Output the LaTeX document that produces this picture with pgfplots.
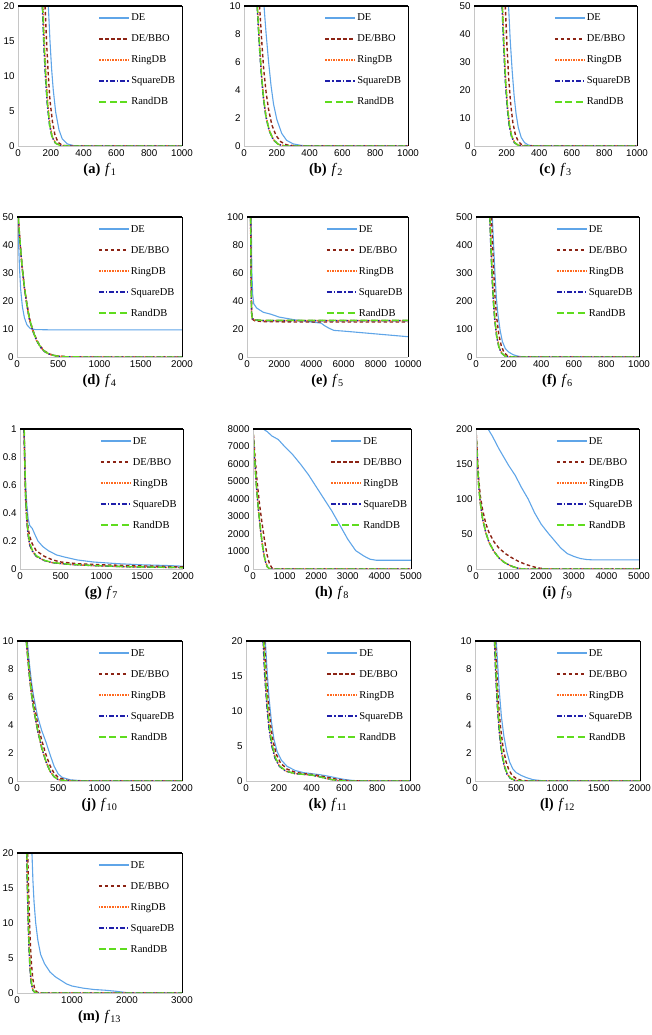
\documentclass[border=0pt]{standalone}
\usepackage{fontspec}
\setmainfont{Liberation Serif}
\newfontfamily\tickfam{Liberation Sans}
\usepackage{pgfplots}
\pgfplotsset{compat=1.18}
\definecolor{cDE}{RGB}{95,165,232}
\definecolor{cBBO}{RGB}{140,35,20}
\definecolor{cRing}{RGB}{255,105,30}
\definecolor{cSq}{RGB}{30,30,170}
\definecolor{cRand}{RGB}{95,220,30}
\newcommand{\tickf}{\tickfam\fontsize{9.8}{11}\selectfont}
\newcommand{\legf}{\fontsize{10.5}{12}\selectfont}
\newcommand{\capf}{\fontsize{14.5}{16}\selectfont}
\newcommand{\pcap}[2]{\textbf{(#1)}\,\,\textit{f}\textsubscript{#2}}
\tikzset{
 sDE/.style={color=cDE, line width=1.1pt, solid},
 sBBO/.style={color=cBBO, line width=1.4pt, dash pattern=on 3.5pt off 2.5pt},
 sRing/.style={color=cRing, line width=1.4pt, dash pattern=on 1.6pt off 1pt},
 sSq/.style={color=cSq, line width=1.3pt, dash pattern=on 5pt off 2pt on 1.5pt off 2pt},
 sRand/.style={color=cRand, line width=1.4pt, dash pattern=on 7pt off 3.5pt},
}
\pgfplotsset{panel/.style={
  scale only axis, height=140pt, xmin=0, ymin=0,
  axis line style={draw=none}, major tick length=0pt,
  tick label style={font=\tickf},
  /pgf/number format/1000 sep={}, scaled ticks=false,
  /pgf/number format/assume math mode=true,
  every axis x label/.style={at={(axis description cs:0.5,0)}, anchor=center, yshift=-24pt, font=\capf},
  legend style={draw=none, fill=none, at={(0.49,0.955)}, anchor=north west, inner sep=0pt,
     row sep=9.5pt, font=\legf, nodes={inner sep=1pt, text height=7.5pt, text depth=2pt}},
  legend cell align=left,
  legend image code/.code={\draw[##1, line width=1.7pt] (0pt,0pt) -- (30pt,0pt);},
  after end axis/.code={
    \draw[gray!45, line width=0.8pt] (rel axis cs:0,1) -- (rel axis cs:0,0) -- (rel axis cs:1,0);
    \draw[black, line width=0.7pt] (rel axis cs:1,0) -- (rel axis cs:1,1);
    \draw[black, line width=1.3pt] (rel axis cs:0,1) -- (rel axis cs:1,1);
  },
}}
\newcommand{\leg}{\legend{DE,DE/BBO,RingDB,SquareDB,RandDB}}
\begin{document}
\begin{tikzpicture}
\useasboundingbox (0,0) rectangle (652pt,-1035pt);
% (a)
\begin{axis}[panel, at={(18pt,-146pt)}, anchor=south west, width=164pt,
  xmax=1000, ymax=20, xtick={0,200,...,1000}, ytick={0,5,...,20}, xlabel={\pcap{a}{1}}]
\addplot[sDE] coordinates {(185,20)(195,15)(205,11)(215,8)(230,4.8)(250,2.3)(270,1)(300,0.3)(340,0.05)(400,0)(1000,0)};
\addplot[sBBO] coordinates {(165,20)(175,14.5)(185,10)(195,6.5)(210,3.5)(225,1.6)(245,0.5)(270,0.1)(320,0)(1000,0)};
\addplot[sRing] coordinates {(152,20)(162,14)(172,9.5)(182,6)(195,3)(210,1.3)(230,0.4)(260,0.05)(300,0)(1000,0)};
\addplot[sSq] coordinates {(148,20)(158,14)(168,9.5)(178,6)(192,3)(207,1.3)(228,0.4)(258,0.05)(300,0)(1000,0)};
\addplot[sRand] coordinates {(150,20)(160,14)(170,9.5)(180,6)(193,3)(208,1.3)(229,0.4)(259,0.05)(300,0)(1000,0)};
\leg
\end{axis}
% (b)
\begin{axis}[panel, at={(244pt,-146pt)}, anchor=south west, width=164pt,
  xmax=1000, ymax=10, xtick={0,200,...,1000}, ytick={0,2,...,10}, xlabel={\pcap{b}{2}}]
\addplot[sDE] coordinates {(122,10)(135,8)(150,6)(165,4.3)(180,3)(200,1.9)(230,0.9)(260,0.4)(300,0.15)(350,0.04)(400,0)(1000,0)};
\addplot[sBBO] coordinates {(95,10)(108,7.5)(120,5.5)(135,3.8)(150,2.6)(170,1.5)(195,0.75)(225,0.3)(260,0.08)(320,0)(1000,0)};
\addplot[sRing] coordinates {(82,10)(95,7.3)(108,5)(120,3.4)(135,2.1)(155,1.1)(180,0.45)(210,0.12)(250,0)(1000,0)};
\addplot[sSq] coordinates {(80,10)(93,7.2)(106,5)(118,3.4)(133,2.1)(153,1.1)(178,0.45)(208,0.12)(250,0)(1000,0)};
\addplot[sRand] coordinates {(81,10)(94,7.3)(107,5)(119,3.4)(134,2.1)(154,1.1)(179,0.45)(209,0.12)(250,0)(1000,0)};
\leg
\end{axis}
% (c)
\begin{axis}[panel, at={(474pt,-146pt)}, anchor=south west, width=163pt,
  xmax=1000, ymax=50, xtick={0,200,...,1000}, ytick={0,10,...,50}, xlabel={\pcap{c}{3}}]
\addplot[sDE] coordinates {(212,50)(222,38)(234,27)(246,18)(258,11.5)(272,6.5)(290,3)(310,1.2)(335,0.3)(370,0.05)(420,0)(1000,0)};
\addplot[sBBO] coordinates {(192,50)(202,36)(213,24)(225,15)(238,8.5)(253,4.2)(270,1.8)(290,0.6)(320,0.1)(360,0)(1000,0)};
\addplot[sRing] coordinates {(175,50)(185,35)(195,23)(206,14)(218,7.5)(232,3.5)(250,1.2)(272,0.3)(300,0)(1000,0)};
\addplot[sSq] coordinates {(172,50)(182,35)(192,23)(203,14)(215,7.5)(229,3.5)(247,1.2)(269,0.3)(300,0)(1000,0)};
\addplot[sRand] coordinates {(174,50)(184,35)(194,23)(205,14)(217,7.5)(231,3.5)(249,1.2)(271,0.3)(300,0)(1000,0)};
\leg
\end{axis}
% (d)
\begin{axis}[panel, at={(17pt,-357pt)}, anchor=south west, width=165pt,
  xmax=2000, ymax=50, xtick={0,500,...,2000}, ytick={0,10,...,50}, xlabel={\pcap{d}{4}}]
\addplot[sDE] coordinates {(10,50)(20,40)(30,32)(45,24)(65,18)(90,14)(120,11.5)(160,10.2)(220,9.8)(400,9.7)(2000,9.7)};
\addplot[sBBO] coordinates {(15,50)(35,42)(60,33)(90,25)(120,19)(150,14)(190,9.8)(240,6)(290,3.6)(340,2)(400,1)(480,0.4)(600,0.1)(800,0)(2000,0)};
\addplot[sRing] coordinates {(15,50)(35,41.5)(60,32.5)(90,24.5)(120,18.5)(150,13.5)(190,9.4)(240,5.7)(290,3.3)(340,1.8)(400,0.9)(480,0.35)(600,0.08)(800,0)(2000,0)};
\addplot[sSq] coordinates {(15,50)(35,41.5)(60,32.5)(90,24.5)(120,18.5)(150,13.5)(190,9.4)(240,5.7)(290,3.3)(340,1.8)(400,0.9)(480,0.35)(600,0.08)(800,0)(2000,0)};
\addplot[sRand] coordinates {(15,50)(35,42)(60,33)(90,25)(120,18.8)(150,13.8)(190,9.6)(240,5.8)(290,3.4)(340,1.9)(400,0.9)(480,0.35)(600,0.08)(800,0)(2000,0)};
\leg
\end{axis}
% (e)
\begin{axis}[panel, at={(247pt,-357pt)}, anchor=south west, width=161pt,
  xmax=10000, ymax=100, xtick={0,2000,...,10000}, ytick={0,20,...,100}, xlabel={\pcap{e}{5}}]
\addplot[sDE] coordinates {(260,100)(300,62)(350,45)(420,38)(600,35)(1000,32)(1500,30.5)(2000,28.5)(2500,27.5)(3000,26.5)(3500,25.8)(4000,25)(4600,24.2)(4800,22.5)(5100,20.5)(5400,19)(6000,18.5)(7000,17.5)(8000,16.5)(9000,15.5)(10000,14.5)};
\addplot[sBBO] coordinates {(230,100)(260,60)(290,32)(330,27)(500,25.8)(1000,25.3)(3000,25)(10000,25)};
\addplot[sRing] coordinates {(220,100)(250,60)(280,32)(320,27.5)(500,26.5)(1000,26)(3000,26)(10000,26)};
\addplot[sSq] coordinates {(220,100)(250,60)(280,32)(320,27.5)(500,26.5)(1000,26)(3000,26)(10000,26)};
\addplot[sRand] coordinates {(225,100)(255,60)(285,32)(325,27.5)(500,26.5)(1000,26.2)(3000,26.2)(10000,26.2)};
\leg
\end{axis}
% (f)
\begin{axis}[panel, at={(476pt,-357pt)}, anchor=south west, width=163pt,
  xmax=1000, ymax=500, xtick={0,200,...,1000}, ytick={0,100,...,500}, xlabel={\pcap{f}{6}}]
\addplot[sDE] coordinates {(100,500)(108,400)(116,300)(125,210)(135,150)(148,95)(162,55)(180,30)(200,18)(225,9)(250,4)(280,1)(320,0)(1000,0)};
\addplot[sBBO] coordinates {(95,500)(102,400)(109,300)(117,210)(127,140)(140,80)(155,40)(172,16)(192,5)(215,1)(250,0)(1000,0)};
\addplot[sRing] coordinates {(86,500)(93,390)(100,290)(108,200)(117,130)(128,75)(142,35)(158,14)(178,4)(200,1)(230,0)(1000,0)};
\addplot[sSq] coordinates {(84,500)(91,390)(98,290)(106,200)(115,130)(126,75)(140,35)(156,14)(176,4)(198,1)(230,0)(1000,0)};
\addplot[sRand] coordinates {(85,500)(92,390)(99,290)(107,200)(116,130)(127,75)(141,35)(157,14)(177,4)(199,1)(230,0)(1000,0)};
\leg
\end{axis}
% (g)
\begin{axis}[panel, at={(20pt,-569pt)}, anchor=south west, width=163pt,
  xmax=2000, ymax=1, xtick={0,500,...,2000}, ytick={0,0.2,...,1}, xlabel={\pcap{g}{7}},
  yticklabel style={/pgf/number format/fixed}]
\addplot[sDE] coordinates {(50,1)(60,0.75)(70,0.58)(85,0.45)(100,0.36)(120,0.31)(150,0.29)(180,0.25)(220,0.2)(280,0.16)(350,0.13)(450,0.1)(550,0.085)(700,0.065)(900,0.05)(1200,0.038)(1500,0.03)(1800,0.025)(2000,0.02)};
\addplot[sBBO] coordinates {(50,1)(60,0.72)(70,0.52)(85,0.38)(100,0.29)(120,0.23)(150,0.18)(200,0.13)(250,0.11)(300,0.09)(400,0.065)(500,0.05)(700,0.038)(1000,0.03)(1500,0.022)(2000,0.015)};
\addplot[sRing] coordinates {(50,1)(60,0.7)(70,0.48)(85,0.33)(100,0.24)(120,0.17)(150,0.13)(200,0.09)(300,0.06)(400,0.045)(600,0.033)(900,0.024)(1300,0.016)(2000,0.01)};
\addplot[sSq] coordinates {(50,1)(60,0.7)(70,0.48)(85,0.33)(100,0.24)(120,0.17)(150,0.13)(200,0.09)(300,0.06)(400,0.045)(600,0.033)(900,0.024)(1300,0.016)(2000,0.01)};
\addplot[sRand] coordinates {(52,1)(62,0.7)(72,0.49)(87,0.34)(102,0.25)(122,0.18)(152,0.135)(200,0.095)(300,0.062)(400,0.046)(600,0.034)(900,0.025)(1300,0.017)(2000,0.01)};
\leg
\end{axis}
% (h)
\begin{axis}[panel, at={(253pt,-569pt)}, anchor=south west, width=158pt,
  xmax=5000, ymax=8000, xtick={0,1000,...,5000}, ytick={0,1000,...,8000}, xlabel={\pcap{h}{8}}]
\addplot[sDE] coordinates {(320,8000)(450,7850)(600,7600)(800,7400)(1000,7000)(1250,6550)(1500,6000)(1750,5400)(2000,4700)(2250,4000)(2500,3300)(2750,2500)(3000,1700)(3250,1050)(3500,750)(3700,560)(3900,500)(5000,500)};
\addplot[sBBO] coordinates {(0,8000)(60,6500)(130,5000)(200,3800)(280,2700)(360,1700)(440,850)(520,300)(600,60)(680,0)(5000,0)};
\addplot[sRing] coordinates {(0,8000)(50,6300)(110,4700)(170,3400)(240,2200)(310,1200)(380,500)(450,130)(520,10)(580,0)(5000,0)};
\addplot[sSq] coordinates {(0,8000)(50,6300)(110,4700)(170,3400)(240,2200)(310,1200)(380,500)(450,130)(520,10)(580,0)(5000,0)};
\addplot[sRand] coordinates {(0,8000)(52,6300)(112,4700)(172,3400)(242,2200)(312,1200)(382,500)(452,130)(522,10)(580,0)(5000,0)};
\leg
\end{axis}
% (i)
\begin{axis}[panel, at={(476pt,-569pt)}, anchor=south west, width=163pt,
  xmax=5000, ymax=200, xtick={0,1000,...,5000}, ytick={0,50,...,200}, xlabel={\pcap{i}{9}}]
\addplot[sDE] coordinates {(370,200)(500,190)(700,172)(1000,148)(1200,134)(1400,116)(1600,100)(1800,80)(2000,64)(2200,52)(2400,41)(2600,30)(2800,22)(3000,18)(3200,15)(3400,13.5)(3600,13)(5000,13)};
\addplot[sBBO] coordinates {(0,200)(40,165)(80,130)(130,105)(200,85)(300,65)(400,52)(550,39)(700,30)(900,22)(1100,16)(1300,11)(1500,7)(1700,4)(1900,1.5)(2100,0.3)(2300,0)(5000,0)};
\addplot[sRing] coordinates {(0,200)(40,155)(80,120)(130,95)(200,72)(300,52)(400,38)(550,25)(700,16)(850,10)(1000,6)(1150,3)(1300,1)(1450,0)(5000,0)};
\addplot[sSq] coordinates {(0,200)(40,155)(80,120)(130,95)(200,72)(300,52)(400,38)(550,25)(700,16)(850,10)(1000,6)(1150,3)(1300,1)(1450,0)(5000,0)};
\addplot[sRand] coordinates {(0,200)(42,155)(82,120)(132,95)(202,72)(302,52)(402,38)(552,25)(702,16)(852,10)(1002,6)(1152,3)(1302,1)(1450,0)(5000,0)};
\leg
\end{axis}
% (j)
\begin{axis}[panel, at={(17pt,-781pt)}, anchor=south west, width=165pt,
  xmax=2000, ymax=10, xtick={0,500,...,2000}, ytick={0,2,...,10}, xlabel={\pcap{j}{10}}]
\addplot[sDE] coordinates {(125,10)(150,8.4)(175,7.1)(200,6.1)(250,4.6)(300,3.6)(350,2.8)(400,1.9)(450,1.05)(500,0.5)(550,0.25)(650,0.08)(800,0.02)(1000,0)(2000,0)};
\addplot[sBBO] coordinates {(118,10)(150,7.9)(175,6.7)(200,5.7)(250,4.1)(300,2.9)(350,1.9)(400,1.1)(450,0.55)(500,0.25)(600,0.06)(750,0)(2000,0)};
\addplot[sRing] coordinates {(112,10)(150,7.5)(175,6.2)(200,5.2)(250,3.6)(300,2.35)(350,1.4)(400,0.7)(450,0.3)(500,0.1)(600,0.01)(700,0)(2000,0)};
\addplot[sSq] coordinates {(112,10)(150,7.5)(175,6.2)(200,5.2)(250,3.6)(300,2.35)(350,1.4)(400,0.7)(450,0.3)(500,0.1)(600,0.01)(700,0)(2000,0)};
\addplot[sRand] coordinates {(114,10)(152,7.5)(177,6.2)(202,5.2)(252,3.6)(302,2.35)(352,1.4)(402,0.7)(452,0.3)(502,0.1)(600,0.01)(700,0)(2000,0)};
\leg
\end{axis}
% (k)
\begin{axis}[panel, at={(246pt,-781pt)}, anchor=south west, width=164pt,
  xmax=1000, ymax=20, xtick={0,200,...,1000}, ytick={0,5,...,20}, xlabel={\pcap{k}{11}}]
\addplot[sDE] coordinates {(118,20)(128,16)(140,12)(155,8.5)(170,6)(190,4.2)(215,3)(250,2.1)(300,1.5)(350,1.2)(400,1.05)(450,0.9)(500,0.7)(550,0.45)(600,0.22)(650,0.08)(700,0.02)(800,0)(1000,0)};
\addplot[sBBO] coordinates {(113,20)(123,15.5)(135,11.5)(150,8)(165,5.7)(185,3.8)(210,2.6)(250,1.7)(300,1.25)(350,1.05)(400,0.95)(450,0.75)(500,0.5)(550,0.27)(600,0.1)(650,0.02)(720,0)(1000,0)};
\addplot[sRing] coordinates {(106,20)(116,15)(128,11)(142,7.5)(158,5.1)(178,3.3)(205,2.1)(245,1.4)(300,1.05)(350,0.95)(400,0.85)(450,0.6)(500,0.3)(550,0.1)(600,0.01)(650,0)(1000,0)};
\addplot[sSq] coordinates {(104,20)(114,15)(126,11)(140,7.5)(156,5.1)(176,3.3)(203,2.1)(243,1.4)(300,1.05)(350,0.95)(400,0.85)(450,0.6)(500,0.3)(550,0.1)(600,0.01)(650,0)(1000,0)};
\addplot[sRand] coordinates {(108,20)(118,15)(130,11)(144,7.5)(160,5.1)(180,3.3)(207,2.1)(247,1.4)(300,1.05)(350,0.95)(400,0.85)(450,0.6)(500,0.3)(550,0.1)(600,0.01)(650,0)(1000,0)};
\leg
\end{axis}
% (l)
\begin{axis}[panel, at={(475pt,-781pt)}, anchor=south west, width=165pt,
  xmax=2000, ymax=10, xtick={0,500,...,2000}, ytick={0,2,...,10}, xlabel={\pcap{l}{12}}]
\addplot[sDE] coordinates {(258,10)(275,8.3)(295,6.4)(320,4.6)(350,3.2)(385,2.1)(420,1.35)(460,0.85)(500,0.6)(560,0.4)(620,0.25)(700,0.1)(800,0.03)(900,0)(2000,0)};
\addplot[sBBO] coordinates {(248,10)(265,7.6)(285,5.5)(310,3.8)(340,2.4)(375,1.4)(410,0.8)(450,0.4)(500,0.17)(560,0.05)(650,0)(2000,0)};
\addplot[sRing] coordinates {(238,10)(255,7.4)(275,5.2)(298,3.4)(325,2)(355,1.1)(390,0.5)(430,0.2)(480,0.05)(550,0)(2000,0)};
\addplot[sSq] coordinates {(235,10)(252,7.4)(272,5.2)(295,3.4)(322,2)(352,1.1)(387,0.5)(427,0.2)(477,0.05)(550,0)(2000,0)};
\addplot[sRand] coordinates {(240,10)(257,7.4)(277,5.2)(300,3.4)(327,2)(357,1.1)(392,0.5)(432,0.2)(482,0.05)(550,0)(2000,0)};
\leg
\end{axis}
% (m)
\begin{axis}[panel, at={(17pt,-993pt)}, anchor=south west, width=165pt,
  xmax=3000, ymax=20, xtick={0,1000,...,3000}, ytick={0,5,...,20}, xlabel={\pcap{m}{13}}]
\addplot[sDE] coordinates {(272,20)(290,16)(310,13)(340,10)(380,7.5)(430,5.5)(500,4.2)(600,3)(700,2.3)(800,1.8)(900,1.3)(1000,1)(1200,0.7)(1400,0.5)(1600,0.4)(1800,0.25)(2000,0.05)(2200,0)(3000,0)};
\addplot[sBBO] coordinates {(195,20)(210,15)(225,11)(240,7.5)(260,4.5)(285,2.2)(315,0.8)(350,0.2)(400,0)(3000,0)};
\addplot[sRing] coordinates {(178,20)(192,14.5)(206,10)(220,6.5)(238,3.5)(260,1.5)(290,0.4)(330,0.05)(380,0)(3000,0)};
\addplot[sSq] coordinates {(175,20)(189,14.5)(203,10)(217,6.5)(235,3.5)(257,1.5)(287,0.4)(327,0.05)(380,0)(3000,0)};
\addplot[sRand] coordinates {(180,20)(194,14.5)(208,10)(222,6.5)(240,3.5)(262,1.5)(292,0.4)(332,0.05)(380,0)(3000,0)};
\leg
\end{axis}
\end{tikzpicture}
\end{document}
